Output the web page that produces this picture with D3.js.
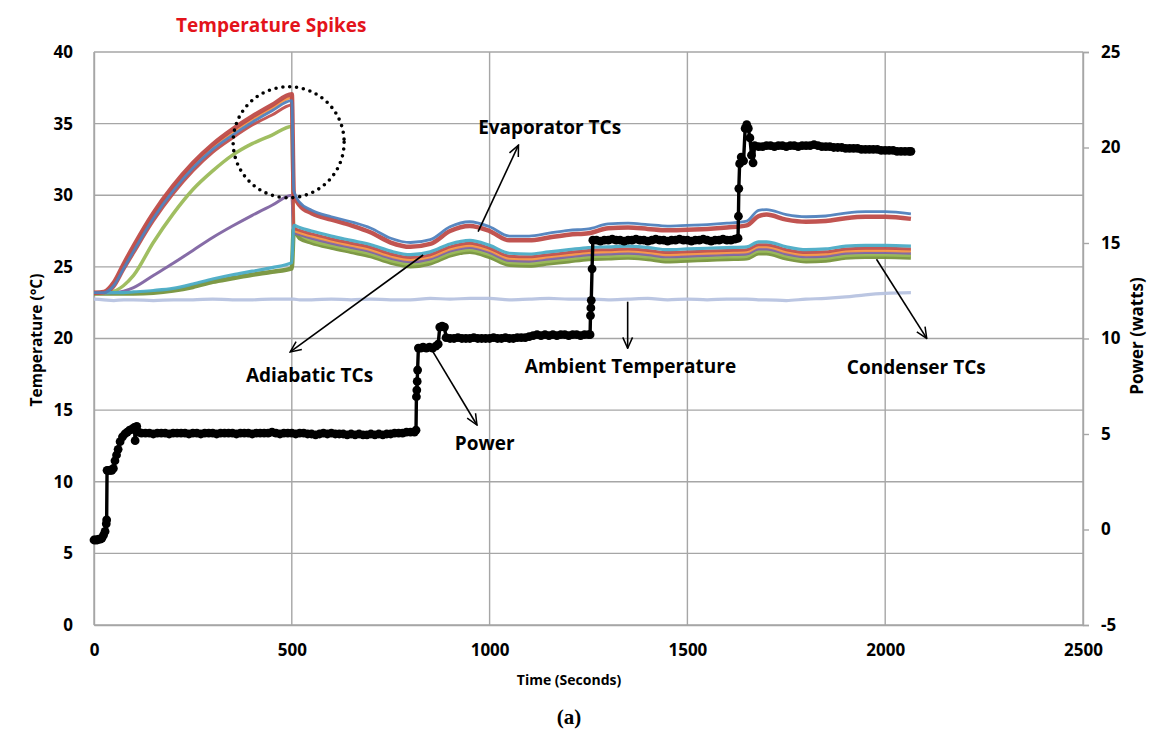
<!DOCTYPE html>
<html><head><meta charset="utf-8">
<script src="https://cdn.jsdelivr.net/npm/d3@7"></script>
<style>
body{margin:0;background:#fff}
svg{display:block}
text{font-family:'Open Sans',sans-serif;font-weight:700;fill:#000}
</style>
</head><body>
<svg id="chart" width="1151" height="729"></svg>
<script>
// ---------- DATA ----------
const timeTicks = [0, 500, 1000, 1500, 2000, 2500];
const tempTicks = [0, 5, 10, 15, 20, 25, 30, 35, 40];
const powerTicks = [-5, 0, 5, 10, 15, 20, 25];

const timeGrid = [0, 25, 50, 75, 100, 150, 200, 250, 300, 350, 400, 450, 500,
  505, 520, 550, 600, 650, 700, 750, 800, 850, 900, 950, 1000, 1050, 1100, 1150, 1200,
  1250, 1300, 1350, 1400, 1450, 1500, 1550, 1600, 1650, 1680, 1700, 1750, 1800, 1850,
  1900, 1950, 2000, 2065];

const ambientTemp = [22.75, 22.7, 22.65, 22.7, 22.7, 22.65, 22.7, 22.7, 22.75, 22.7, 22.7, 22.75, 22.75,
  22.75, 22.7, 22.7, 22.75, 22.7, 22.75, 22.7, 22.7, 22.8, 22.75, 22.8, 22.8, 22.7, 22.75, 22.8, 22.75,
  22.75, 22.7, 22.75, 22.8, 22.7, 22.75, 22.7, 22.75, 22.75, 22.7, 22.7, 22.65, 22.75, 22.8,
  22.9, 23.05, 23.15, 23.2];

const condOlive = [23.15, 23.15, 23.15, 23.15, 23.15, 23.2, 23.35, 23.6, 23.95, 24.2, 24.45, 24.65, 24.9,
  27.6, 27.0, 26.7, 26.35, 26.05, 25.75, 25.3, 25.05, 25.25, 25.8, 26.05, 25.7, 25.15, 25.1, 25.25, 25.4,
  25.55, 25.6, 25.65, 25.55, 25.4, 25.45, 25.5, 25.55, 25.6, 25.95, 25.95, 25.6, 25.4, 25.45,
  25.65, 25.7, 25.7, 25.65];

const adiaGreen = [23.2, 23.2, 23.3, 23.7, 24.4, 26.7, 28.7, 30.4, 31.7, 32.8, 33.6, 34.2, 34.8,
  27.9, 27.3, 26.85, 26.5, 26.2, 25.9, 25.45, 25.2, 25.4, 25.95, 26.2, 25.85, 25.3, 25.25, 25.4, 25.55,
  25.7, 25.75, 25.8, 25.7, 25.55, 25.6, 25.65, 25.7, 25.75, 26.1, 26.1, 25.75, 25.55, 25.6,
  25.8, 25.85, 25.85, 25.8];

const adiaPurple = [23.2, 23.2, 23.2, 23.3, 23.55, 24.4, 25.25, 26.15, 27.05, 27.85, 28.6, 29.3, 30.0,
  27.4, 27.25, 27.0, 26.65, 26.35, 26.05, 25.6, 25.35, 25.55, 26.1, 26.35, 26.0, 25.45, 25.4, 25.55, 25.7,
  25.85, 25.9, 25.95, 25.85, 25.7, 25.75, 25.8, 25.85, 25.9, 26.25, 26.25, 25.9, 25.7, 25.75,
  25.95, 26.0, 26.0, 25.95];

const evapOrange = [23.2, 23.2, 23.8, 25.05, 26.3, 28.6, 30.5, 32.1, 33.4, 34.4, 35.3, 36.1, 36.8,
  27.55, 27.4, 27.15, 26.8, 26.5, 26.2, 25.75, 25.5, 25.7, 26.25, 26.5, 26.15, 25.6, 25.55, 25.7, 25.85,
  26.0, 26.05, 26.1, 26.0, 25.85, 25.9, 25.95, 26.0, 26.05, 26.4, 26.4, 26.05, 25.85, 25.9,
  26.1, 26.15, 26.15, 26.1];

const evapRed2 = [23.2, 23.2, 23.6, 24.8, 25.95, 28.2, 30.1, 31.7, 33.0, 34.0, 34.9, 35.6, 36.3,
  27.7, 27.55, 27.3, 26.95, 26.65, 26.35, 25.9, 25.65, 25.85, 26.4, 26.65, 26.3, 25.75, 25.7, 25.85, 26.0,
  26.15, 26.2, 26.25, 26.15, 26.0, 26.05, 26.1, 26.15, 26.2, 26.55, 26.55, 26.2, 26.0, 26.05,
  26.25, 26.3, 26.3, 26.25];

const condTeal = [23.2, 23.2, 23.2, 23.2, 23.25, 23.35, 23.5, 23.8, 24.15, 24.45, 24.7, 24.95, 25.3,
  27.9, 27.75, 27.5, 27.15, 26.85, 26.55, 26.1, 25.85, 26.05, 26.6, 26.85, 26.5, 25.95, 25.9, 26.05, 26.2,
  26.35, 26.4, 26.45, 26.35, 26.2, 26.25, 26.3, 26.35, 26.4, 26.75, 26.75, 26.4, 26.2, 26.25,
  26.45, 26.5, 26.5, 26.45];

const evapRed = [23.2, 23.25, 23.9, 25.2, 26.45, 28.75, 30.65, 32.25, 33.55, 34.6, 35.5, 36.3, 37.05,
  30.1, 29.3, 28.75, 28.3, 27.9, 27.4, 26.7, 26.4, 26.6, 27.5, 27.85, 27.5, 26.85, 26.85, 27.05, 27.25,
  27.35, 27.7, 27.75, 27.65, 27.55, 27.6, 27.65, 27.75, 27.9, 28.55, 28.65, 28.3, 28.15, 28.2,
  28.4, 28.5, 28.5, 28.35];

const evapBlue = [23.2, 23.2, 23.7, 24.9, 26.1, 28.4, 30.3, 31.9, 33.2, 34.2, 35.1, 35.9, 36.6,
  30.3, 29.5, 28.95, 28.5, 28.15, 27.7, 27.0, 26.7, 26.9, 27.8, 28.15, 27.8, 27.15, 27.15, 27.35, 27.55,
  27.65, 28.0, 28.05, 27.95, 27.85, 27.9, 27.95, 28.05, 28.2, 28.95, 29.0, 28.65, 28.5, 28.55,
  28.75, 28.85, 28.85, 28.7];

// power (watts, right axis) as [time, watts]
const powerPoints = [
  [0,-0.55],[4,-0.55],[8,-0.55],[12,-0.5],[16,-0.5],[20,-0.45],[24,-0.3],[28,-0.1],[31,0.3],[32,0.5],
  [33,3.1],[37,3.1],[41,3.1],[45,3.1],[49,3.2],[53,3.6],[57,3.9],[61,4.2],[66,4.6],[72,4.85],
  [78,5.0],[84,5.1],[90,5.2],[96,5.25],[102,5.35],[104,4.65],[108,5.4],[113,5.1],
  [120,5.05],[130,5.05],[140,5.05],[150,5.0],[160,5.05],[170,5.05],[180,5.05],[190,5.0],[200,5.05],
  [210,5.05],[220,5.05],[230,5.05],[240,5.0],[250,5.05],[260,5.05],[270,5.0],[280,5.05],[290,5.05],
  [300,5.05],[310,5.0],[320,5.05],[330,5.05],[340,5.05],[350,5.05],[360,5.0],[370,5.05],[380,5.05],
  [390,5.05],[400,5.0],[410,5.05],[420,5.05],[430,5.05],[440,5.05],[450,5.1],[460,5.05],[470,5.0],
  [480,5.05],[490,5.05],[500,5.05],[510,5.0],[520,5.05],[530,5.05],[540,5.0],[550,5.0],[560,4.95],
  [570,5.0],[580,5.05],[590,5.0],[600,5.05],[610,5.0],[620,5.0],[630,5.0],[640,4.95],[650,5.0],
  [660,4.95],[670,5.0],[680,4.95],[690,4.95],[700,5.0],[710,4.95],[720,5.0],[730,4.95],[740,5.0],
  [750,5.0],[760,5.05],[770,5.05],[780,5.05],[790,5.1],[800,5.1],[810,5.1],[814,5.2],
  [815,6.95],[816,7.3],[817,7.75],[818,8.35],[820,9.5],[826,9.5],[832,9.55],[840,9.5],[848,9.55],
  [856,9.5],[864,9.6],[870,9.7],[874,10.6],[880,10.65],[886,10.6],[890,10.05],
  [900,10.0],[910,10.0],[920,10.05],[930,10.0],[940,10.0],[950,10.0],[960,10.05],[970,10.0],
  [980,10.0],[990,10.0],[1000,10.0],[1010,10.05],[1020,10.0],[1030,10.0],[1040,10.05],[1050,10.0],
  [1060,10.0],[1070,10.05],[1080,10.05],[1090,10.05],[1100,10.1],[1110,10.15],[1120,10.2],
  [1130,10.15],[1140,10.2],[1150,10.15],[1160,10.2],[1170,10.15],[1180,10.2],[1190,10.2],
  [1200,10.15],[1210,10.2],[1220,10.2],[1230,10.15],[1240,10.2],[1250,10.2],[1254,10.2],
  [1255,11.2],[1256,11.6],[1257,12.0],[1259,13.65],[1261,15.15],
  [1270,15.15],[1280,15.1],[1290,15.15],[1300,15.15],[1310,15.2],[1320,15.15],[1330,15.15],
  [1340,15.1],[1350,15.15],[1360,15.15],[1370,15.2],[1380,15.15],[1390,15.15],[1400,15.1],
  [1410,15.15],[1420,15.2],[1430,15.15],[1440,15.15],[1450,15.1],[1460,15.15],[1470,15.15],
  [1480,15.2],[1490,15.15],[1500,15.15],[1510,15.1],[1520,15.15],[1530,15.15],[1540,15.2],
  [1550,15.15],[1560,15.1],[1570,15.15],[1580,15.15],[1590,15.2],[1600,15.15],[1610,15.15],
  [1620,15.2],[1628,15.25],
  [1629,16.4],[1630,17.85],[1632,19.15],[1636,19.5],[1642,19.3],[1646,21.0],[1650,21.2],
  [1654,21.0],[1658,20.5],[1662,19.6],[1666,19.2],[1670,20.1],
  [1680,20.05],[1690,20.05],[1700,20.1],[1710,20.1],[1720,20.05],[1730,20.1],[1740,20.1],
  [1750,20.05],[1760,20.1],[1770,20.1],[1780,20.05],[1790,20.1],[1800,20.1],[1810,20.1],
  [1820,20.15],[1830,20.1],[1840,20.05],[1850,20.05],[1860,20.05],[1870,20.0],[1880,20.0],
  [1890,20.0],[1900,19.95],[1910,19.95],[1920,19.95],[1930,19.95],[1940,19.9],[1950,19.9],
  [1960,19.9],[1970,19.9],[1980,19.9],[1990,19.85],[2000,19.85],[2010,19.85],[2020,19.85],
  [2030,19.8],[2040,19.8],[2050,19.8],[2060,19.8],[2065,19.8]
];

// annotation labels and arrows in data coordinates (time, temperature)
const labelNames = ["Evaporator TCs", "Adiabatic TCs", "Ambient Temperature", "Condenser TCs", "Power"];
const labelAnchors = [[971, 34.28], [384, 16.96], [1089, 17.59], [1903, 17.52], [912, 12.22]];
const arrowFrom = [[971, 27.46], [832, 25.83], [1349, 22.57], [1978, 25.53], [854, 19.2]];
const arrowTo = [[1073, 33.5], [496, 19.06], [1349, 19.32], [2105, 20.01], [968, 13.96]];
const spikeCenter = [492, 33.7];

// ---------- CHART ----------
const W = 1151, H = 729;
const margin = {left: 94, right: 68, top: 52, bottom: 104};
const svg = d3.select("#chart");

const x = d3.scaleLinear([0, 2500], [margin.left, W - margin.right]);
const yT = d3.scaleLinear([0, 40], [H - margin.bottom, margin.top]);
const yP = d3.scaleLinear([-5, 25], [H - margin.bottom, margin.top]);
const gridColor = "#a6a6a6";
const fmt = d => String(d);

// gridlines
const grid = svg.append("g");
grid.selectAll("line.h").data(tempTicks).join("line")
  .attr("x1", x(0)).attr("x2", x(2500))
  .attr("y1", d => yT(d)).attr("y2", d => yT(d))
  .attr("stroke", gridColor).attr("stroke-width", 1.4);
grid.selectAll("line.v").data(timeTicks).join("line")
  .attr("y1", yT(0)).attr("y2", yT(40))
  .attr("x1", d => x(d)).attr("x2", d => x(d))
  .attr("stroke", gridColor).attr("stroke-width", 1.4);

// axes
const fontSize = "17px";
const gL = svg.append("g").attr("transform", `translate(${margin.left},0)`)
  .call(d3.axisLeft(yT).tickValues(tempTicks).tickFormat(fmt).tickSize(0).tickPadding(21));
const gB = svg.append("g").attr("transform", `translate(0,${H - margin.bottom})`)
  .call(d3.axisBottom(x).tickValues(timeTicks).tickFormat(fmt).tickSize(0).tickPadding(19));
const gR = svg.append("g").attr("transform", `translate(${W - margin.right},0)`)
  .call(d3.axisRight(yP).tickValues(powerTicks).tickFormat(fmt).tickSize(6).tickPadding(12));
[gL, gB, gR].forEach(g => {
  g.selectAll("text").style("font-size", fontSize).style("font-family", "'Open Sans',sans-serif").attr("font-weight", 700).attr("fill", "#000");
  g.selectAll("line").attr("stroke", gridColor).attr("stroke-width", 1.4);
  g.select(".domain").attr("stroke", gridColor).attr("stroke-width", 1.4);
});

// axis titles
svg.append("text").attr("x", 569).attr("y", 685)
  .attr("text-anchor", "middle").style("font-size", "14px").text("Time (Seconds)");
svg.append("text").attr("transform", `translate(42,${340}) rotate(-90)`)
  .attr("text-anchor", "middle").style("font-size", "15.5px").text("Temperature (°C)");
svg.append("text").attr("transform", `translate(1143,${336}) rotate(-90)`)
  .attr("text-anchor", "middle").style("font-size", "17px").text("Power (watts)");

// temperature series
const series = [
  {v: ambientTemp, c: "#b7c3e0", w: 3.2},
  {v: condOlive, c: "#77933c", w: 4.5},
  {v: adiaGreen, c: "#9bbb59", w: 3.5},
  {v: adiaPurple, c: "#8064a2", w: 3},
  {v: evapOrange, c: "#f79646", w: 3},
  {v: evapRed2, c: "#c0504d", w: 3},
  {v: condTeal, c: "#4bacc6", w: 3.2},
  {v: evapRed, c: "#be4b48", w: 4.5},
  {v: evapBlue, c: "#4f81bd", w: 2.8}
];
const tLine = d3.line().x((d, i) => x(timeGrid[i])).y(d => yT(d)).curve(d3.curveMonotoneX);
svg.append("g").selectAll("path").data(series).join("path")
  .attr("d", d => tLine(d.v))
  .attr("fill", "none").attr("stroke", d => d.c).attr("stroke-width", d => d.w)
  .attr("stroke-linejoin", "round").attr("stroke-opacity", 0.95);

// power
const pLine = d3.line().x(d => x(d[0])).y(d => yP(d[1]));
const gp = svg.append("g");
gp.append("path").attr("d", pLine(powerPoints)).attr("fill", "none")
  .attr("stroke", "#000").attr("stroke-width", 3.4).attr("stroke-linejoin", "round");
gp.selectAll("circle").data(powerPoints).join("circle")
  .attr("cx", d => x(d[0])).attr("cy", d => yP(d[1])).attr("r", 4.4).attr("fill", "#000");

// dotted spike circle
svg.append("circle").attr("cx", x(spikeCenter[0])).attr("cy", yT(spikeCenter[1])).attr("r", 55.5)
  .attr("fill", "none").attr("stroke", "#000").attr("stroke-width", 3.6)
  .attr("stroke-dasharray", "0 6.9").attr("stroke-linecap", "round");

// arrows
const defs = svg.append("defs");
defs.append("marker").attr("id", "arr").attr("viewBox", "0 0 12 12")
  .attr("refX", 11).attr("refY", 6).attr("markerWidth", 13).attr("markerHeight", 13)
  .attr("markerUnits", "userSpaceOnUse").attr("orient", "auto")
  .append("path").attr("d", "M1,1.5 L11,6 L1,10.5").attr("fill", "none")
  .attr("stroke", "#000").attr("stroke-width", 1.4);
svg.append("g").selectAll("line").data(arrowFrom).join("line")
  .attr("x1", d => x(d[0])).attr("y1", d => yT(d[1]))
  .attr("x2", (d, i) => x(arrowTo[i][0])).attr("y2", (d, i) => yT(arrowTo[i][1]))
  .attr("stroke", "#000").attr("stroke-width", 1.6).attr("marker-end", "url(#arr)");

// labels
svg.append("g").selectAll("text").data(labelNames).join("text")
  .attr("x", (d, i) => x(labelAnchors[i][0])).attr("y", (d, i) => yT(labelAnchors[i][1]))
  .style("font-size", "19px").text(d => d);

svg.append("text").attr("x", 176).attr("y", 32).style("font-size", "19px")
  .style("fill", "#e3131b").text("Temperature Spikes");

svg.append("text").attr("x", 569).attr("y", 724).attr("text-anchor", "middle")
  .style("font-family", "'Liberation Serif','Times New Roman',serif").style("font-size", "21px")
  .text("(a)");
</script>
</body></html>
